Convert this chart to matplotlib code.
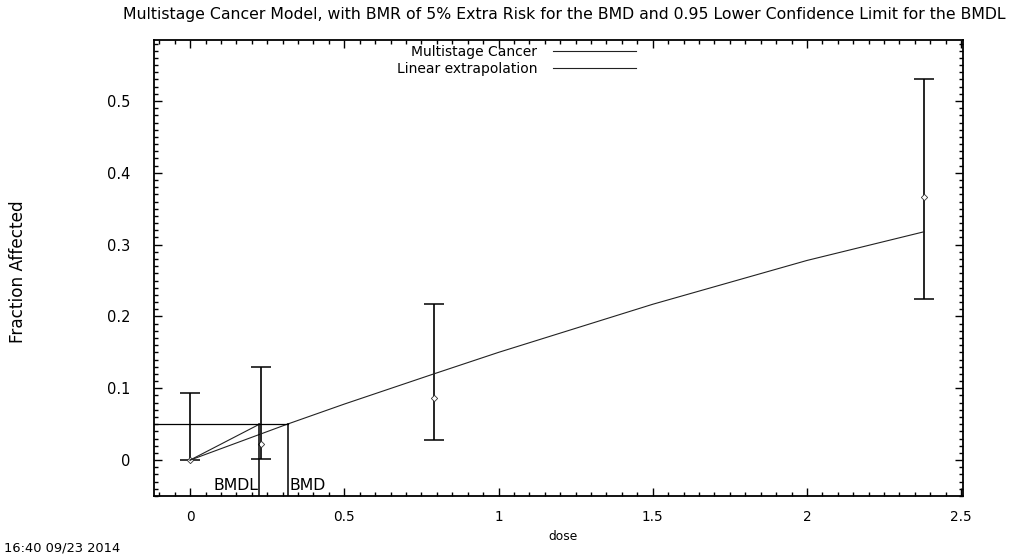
import numpy as np
import matplotlib
matplotlib.use("Agg")
import matplotlib.pyplot as plt
from matplotlib.ticker import MultipleLocator, FixedLocator

plt.rcParams['font.family'] = ['DejaVu Sans']

# --- data ---
dose = [0.0, 0.23, 0.79, 2.38]
frac = [0.0, 0.022, 0.087, 0.366]
ci_low = [0.0, 0.001, 0.028, 0.225]
ci_high = [0.093, 0.13, 0.217, 0.531]

# fitted multistage curve (read points)
model_dose = [0.0, 0.315, 0.5, 0.79, 1.0, 1.5, 2.0, 2.38]
model_frac = [0.0, 0.05, 0.078, 0.12, 0.15, 0.217, 0.278, 0.318]

bmr_level = 0.05
bmd = 0.319
bmdl = 0.225

xticks = [0, 0.5, 1, 1.5, 2, 2.5]
xticklabels = ['0', '0.5', '1', '1.5', '2', '2.5']
yticks = [0, 0.1, 0.2, 0.3, 0.4, 0.5]
yticklabels = ['0', '0.1', '0.2', '0.3', '0.4', '0.5']

title = ("Multistage Cancer Model, with BMR of 5% Extra Risk for the BMD "
         "and 0.95 Lower Confidence Limit for the BMDL")
stamp = "16:40 09/23 2014"

# --- figure ---
fig = plt.figure(figsize=(10.16, 5.58), dpi=100)
ax = fig.add_axes([154 / 1016, 1 - 496 / 558, 809 / 1016, 456 / 558])
xmin, xmax = -0.117, 2.506
ymin, ymax = -0.05, 0.585

# error bars + points
yerr = [np.array(frac) - np.array(ci_low), np.array(ci_high) - np.array(frac)]
ax.errorbar(dose, frac, yerr=yerr, fmt='none', ecolor='black',
            elinewidth=1.2, capsize=7, capthick=1.1)
ax.plot(dose, frac, linestyle='none', marker='D', markersize=3.2,
        markerfacecolor='white', markeredgecolor='#333333', markeredgewidth=0.6)

# model + linear extrapolation
ax.plot(model_dose, model_frac, color='#222222', lw=0.8, label='Multistage Cancer')
ax.plot([0, bmdl], [0, bmr_level], color='#222222', lw=0.8, label='Linear extrapolation')

# BMD / BMDL markers
ax.plot([xmin, bmd], [bmr_level, bmr_level], color='black', lw=0.9)
ax.plot([bmdl, bmdl], [ymin, bmr_level], color='black', lw=1.1)
ax.plot([bmd, bmd], [ymin, bmr_level], color='black', lw=1.1)
ax.text(bmdl - 0.003, -0.035, 'BMDL', ha='right', va='center', fontsize=11.3)
ax.text(bmd + 0.004, -0.035, 'BMD', ha='left', va='center', fontsize=11.3)

ax.set_xlim(xmin, xmax)
ax.set_ylim(ymin, ymax)
ax.xaxis.set_major_locator(FixedLocator(xticks))
ax.set_xticklabels(xticklabels)
ax.xaxis.set_minor_locator(MultipleLocator(0.05))
ax.yaxis.set_major_locator(FixedLocator(yticks))
ax.set_yticklabels(yticklabels)
ax.yaxis.set_minor_locator(MultipleLocator(0.01))
ax.tick_params(which='both', direction='in', top=True, right=True, width=1.0)
ax.tick_params(which='major', length=6)
ax.tick_params(which='minor', length=3)
ax.tick_params(axis='x', which='major', pad=10, labelsize=9.8)
ax.tick_params(axis='y', which='major', pad=17, labelsize=10.5)
for s in ax.spines.values():
    s.set_linewidth(1.3)

leg = ax.legend(loc='upper right', bbox_to_anchor=((636 - 154) / 809, 1 - 5 / 456),
                frameon=False, markerfirst=False, fontsize=10, handlelength=6,
                borderpad=0, borderaxespad=0, labelspacing=0.2, handletextpad=1.1)

fig.text(564 / 1016, 1 - 15 / 558, title, ha='center', va='center', fontsize=11.35)
fig.text(18 / 1016, 1 - 272 / 558, 'Fraction Affected', rotation=90,
         ha='center', va='center', fontsize=12.2)
fig.text(563 / 1016, 1 - 537 / 558, 'dose', ha='center', va='center', fontsize=8.8)
fig.text(4 / 1016, 1 - 548 / 558, stamp, ha='left', va='center', fontsize=9.4)

fig.savefig('out.png', dpi=100)
